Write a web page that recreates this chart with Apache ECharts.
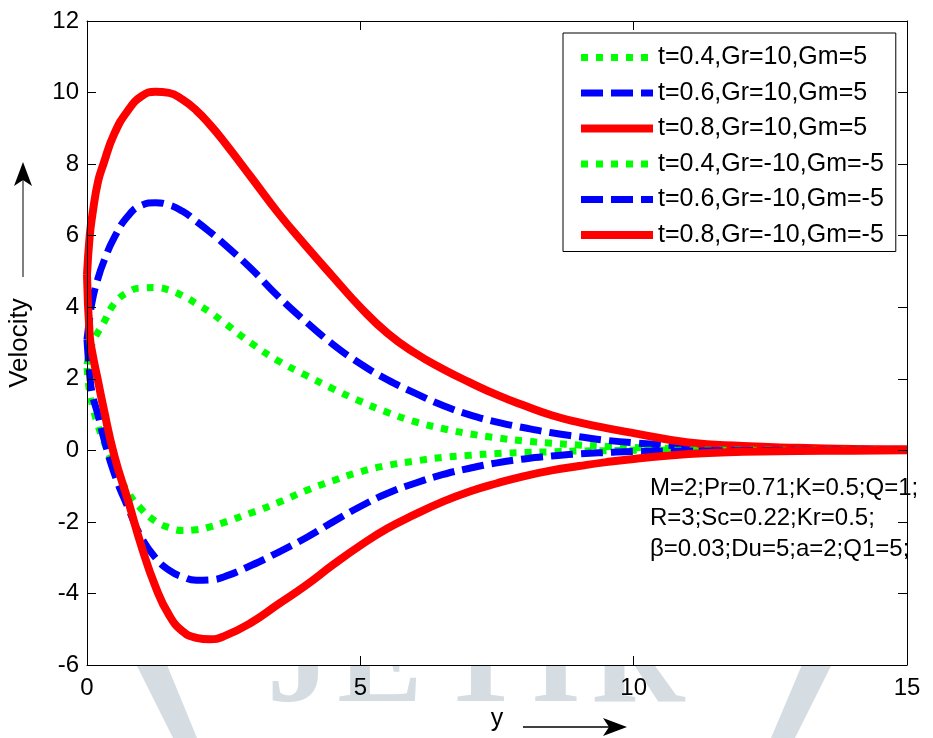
<!DOCTYPE html>
<html>
<head>
<meta charset="utf-8">
<title>Velocity profiles</title>
<script src="https://cdn.jsdelivr.net/npm/echarts@6/dist/echarts.min.js"></script>
<style>
  html, body { margin: 0; padding: 0; background: #fff; }
  #chart { width: 933px; height: 738px; }
</style>
</head>
<body>
<div id="chart"></div>
<script>
// Distance from the plate (y) at which every profile is sampled
const yPos = [0, 0.05, 0.1, 0.2, 0.3, 0.5, 0.75, 1, 1.25, 1.5, 1.75, 2, 2.25, 2.5, 3, 3.5, 4, 4.5,
  5, 5.5, 6, 6.5, 7, 7.5, 8, 8.5, 9, 9.5, 10, 11, 12, 13, 14, 15];

// Velocity, Gr=10, Gm=5
const u04pos = [2.4, 2.75, 3.0, 3.3, 3.55, 4.1, 4.42, 4.54, 4.55, 4.48, 4.32, 4.1, 3.86, 3.58, 3.0, 2.5, 2.1, 1.72,
  1.37, 1.06, 0.8, 0.61, 0.46, 0.35, 0.26, 0.2, 0.15, 0.11, 0.08, 0.05, 0.03, 0.02, 0.01, 0.01];
const u06pos = [3.1, 3.7, 4.2, 4.8, 5.25, 5.95, 6.55, 6.85, 6.92, 6.86, 6.68, 6.4, 6.1, 5.78, 5.08, 4.3, 3.6, 2.96,
  2.42, 1.97, 1.6, 1.26, 0.99, 0.79, 0.63, 0.49, 0.38, 0.28, 0.21, 0.11, 0.06, 0.03, 0.02, 0.01];
const u08pos = [4.9, 6.0, 6.6, 7.5, 8.0, 8.85, 9.5, 9.9, 10.02, 9.99, 9.8, 9.5, 9.1, 8.64, 7.64, 6.63, 5.72, 4.85,
  4.0, 3.27, 2.72, 2.28, 1.9, 1.55, 1.25, 0.98, 0.78, 0.62, 0.48, 0.22, 0.12, 0.07, 0.04, 0.03];

// Velocity, Gr=-10, Gm=-5
const u04neg = [2.3, 1.6, 1.25, 0.7, 0.28, -0.45, -1.17, -1.65, -1.98, -2.16, -2.24, -2.22, -2.14, -2.02, -1.75, -1.46, -1.13, -0.85,
  -0.6, -0.42, -0.3, -0.2, -0.14, -0.09, -0.06, -0.04, -0.02, -0.01, 0, 0, 0, 0, 0, 0];
const u06neg = [3.1, 2.1, 1.55, 1.0, 0.38, -0.65, -1.6, -2.45, -3.0, -3.35, -3.54, -3.63, -3.62, -3.54, -3.22, -2.85, -2.45, -2.0,
  -1.57, -1.2, -0.92, -0.68, -0.5, -0.35, -0.24, -0.16, -0.1, -0.06, -0.03, -0.02, -0.01, 0, 0, 0];
const u08neg = [4.9, 3.2, 2.7, 1.95, 1.2, -0.15, -1.4, -2.7, -3.8, -4.6, -5.06, -5.24, -5.28, -5.2, -4.82, -4.3, -3.78, -3.2,
  -2.66, -2.18, -1.79, -1.44, -1.15, -0.92, -0.72, -0.56, -0.44, -0.33, -0.24, -0.1, -0.04, -0.02, -0.01, 0];

const seriesNames = [
  't=0.4,Gr=10,Gm=5', 't=0.6,Gr=10,Gm=5', 't=0.8,Gr=10,Gm=5',
  't=0.4,Gr=-10,Gm=-5', 't=0.6,Gr=-10,Gm=-5', 't=0.8,Gr=-10,Gm=-5'
];
const seriesValues = [u04pos, u06pos, u08pos, u04neg, u06neg, u08neg];

const xTicks = { min: 0, max: 15, step: 5 };
const yTicks = { min: -6, max: 12, step: 2 };

const paramLines = [
  'M=2;Pr=0.71;K=0.5;Q=1;',
  'R=3;Sc=0.22;Kr=0.5;',
  '\u03b2=0.03;Du=5;a=2;Q1=5;'
];
const watermarkLetters = ['J', 'E', 'T', 'I', 'R'];

const FONT = '"Liberation Sans", Arial, Helvetica, sans-serif';
const GREEN = '#00ff00', BLUE = '#0000ff', RED = '#ff0000';

// t = 0.4 dotted green, t = 0.6 dashed blue, t = 0.8 solid red
const styles = [
  { color: GREEN, width: 7, type: [7, 8] },
  { color: BLUE, width: 7, type: [22, 8] },
  { color: RED, width: 8, type: 'solid' }
];

const series = seriesNames.map((name, i) => {
  const st = styles[i % 3];
  return {
    name: name,
    type: 'line',
    data: yPos.map((x, k) => [x, seriesValues[i][k]]),
    showSymbol: false,
    symbol: 'none',
    smooth: 0.5,
    clip: true,
    z: 2 + i * 0.01,
    color: st.color,
    lineStyle: { color: st.color, width: st.width, type: st.type, cap: 'butt', join: 'round' },
    emphasis: { disabled: true }
  };
});

const GRID = { left: 87, top: 21, width: 820, height: 644 };

const axisLineStyle = { color: '#000', width: 1 };
function xAxisDef(pos, withLabels) {
  return {
    type: 'value', position: pos, min: xTicks.min, max: xTicks.max, interval: xTicks.step,
    z: 4,
    name: withLabels ? 'y' : '',
    nameLocation: 'middle', nameGap: 42,
    nameTextStyle: { fontFamily: FONT, fontSize: 25, color: '#000' },
    axisLine: { show: true, onZero: false, lineStyle: axisLineStyle },
    axisTick: { show: true, inside: true, length: 9, lineStyle: axisLineStyle },
    axisLabel: { show: withLabels, color: '#000', fontFamily: FONT, fontSize: 24, margin: 11 },
    splitLine: { show: false }
  };
}
function yAxisDef(pos, withLabels) {
  return {
    type: 'value', position: pos, min: yTicks.min, max: yTicks.max, interval: yTicks.step,
    z: 4,
    name: withLabels ? 'Velocity' : '',
    nameLocation: 'middle', nameGap: 54, nameRotate: 90,
    nameTextStyle: { fontFamily: FONT, fontSize: 26, color: '#000' },
    axisLine: { show: true, onZero: false, lineStyle: axisLineStyle },
    axisTick: { show: true, inside: true, length: 9, lineStyle: axisLineStyle },
    axisLabel: { show: withLabels, color: '#000', fontFamily: FONT, fontSize: 24, margin: 8 },
    splitLine: { show: false }
  };
}

// Faint "JETIR" mark behind the plot, only its lower part shows below the axes
const markColor = '#d5dde2';
const markCentres = [299, 380, 481, 556, 638];
const watermark = watermarkLetters.map((ch, i) => ({
  type: 'text', z: 0, silent: true,
  style: {
    text: ch, x: markCentres[i], y: 668, align: 'center', verticalAlign: 'middle',
    font: 'bold 128px "Liberation Serif", "DejaVu Serif", serif', fill: markColor
  }
}));
watermark.push(
  { type: 'polygon', z: 0, silent: true, shape: { points: [[134, 660], [165, 660], [197, 738], [173, 738]] }, style: { fill: markColor } },
  { type: 'polygon', z: 0, silent: true, shape: { points: [[804, 660], [834, 660], [795, 738], [771, 738]] }, style: { fill: markColor } }
);

// Arrows next to the axis titles
function arrowHead(tip, dir) {
  // dir: 'up' or 'right'; concave-backed head
  const L = 24, W = 9, N = 6;
  if (dir === 'up') {
    return [[tip[0], tip[1]], [tip[0] + W, tip[1] + L], [tip[0], tip[1] + L - N], [tip[0] - W, tip[1] + L]];
  }
  return [[tip[0], tip[1]], [tip[0] - L, tip[1] - W], [tip[0] - L + N, tip[1]], [tip[0] - L, tip[1] + W]];
}

const overlays = [
  { type: 'rect', z: 1, silent: true, shape: { x: GRID.left, y: GRID.top, width: GRID.width, height: GRID.height }, style: { fill: '#fff' } },
  { type: 'line', z: 5, silent: true, shape: { x1: 23, y1: 178, x2: 23, y2: 277 }, style: { stroke: '#555', lineWidth: 1.5 } },
  { type: 'polygon', z: 5, silent: true, shape: { points: arrowHead([23, 162], 'up') }, style: { fill: '#000' } },
  { type: 'line', z: 5, silent: true, shape: { x1: 523, y1: 727, x2: 610, y2: 727 }, style: { stroke: '#000', lineWidth: 1.5 } },
  { type: 'polygon', z: 5, silent: true, shape: { points: arrowHead([627, 727], 'right') }, style: { fill: '#000' } },
  {
    type: 'text', z: 6, silent: true,
    style: {
      text: paramLines.join('\n'), x: 650, y: 473, align: 'left', verticalAlign: 'top',
      lineHeight: 30.5, font: '24px ' + FONT, fill: '#000'
    }
  }
];

const chart = echarts.init(document.getElementById('chart'), null, { renderer: 'canvas' });
chart.setOption({
  animation: false,
  backgroundColor: '#fff',
  grid: Object.assign({ containLabel: false, outerBoundsMode: 'none' }, GRID),
  xAxis: [xAxisDef('bottom', true), xAxisDef('top', false)],
  yAxis: [yAxisDef('left', true), yAxisDef('right', false)],
  legend: {
    data: seriesNames.map((name, i) => ({
      name: name,
      lineStyle: { width: styles[i % 3].width, type: styles[i % 3].type, color: styles[i % 3].color, cap: 'butt' }
    })),
    orient: 'vertical',
    left: 563, top: 33,
    itemWidth: 72, itemHeight: 10, itemGap: 10.5,
    padding: [12, 12, 4, 14],
    backgroundColor: '#fff',
    borderColor: '#000', borderWidth: 1,
    selectedMode: false,
    z: 6,
    itemStyle: { opacity: 0 },
    textStyle: { fontFamily: FONT, fontSize: 25, color: '#000' }
  },
  graphic: { elements: watermark.concat(overlays) },
  series: series
});
</script>
</body>
</html>
